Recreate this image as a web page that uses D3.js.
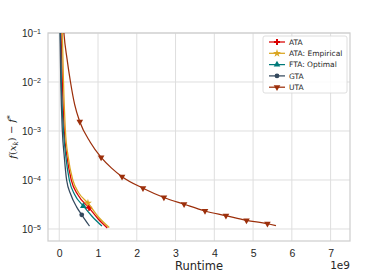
<!DOCTYPE html>
<html>
<head>
<meta charset="utf-8">
<script src="https://cdn.jsdelivr.net/npm/d3@7"></script>
<style>
  body { margin: 0; background: #fff; }
  svg { display: block; font-family: "DejaVu Sans", sans-serif; }
  .grid line { stroke: #dedede; stroke-width: 1; }
  .axis path { display: none; }
  .axis text { fill: #262626; }
</style>
</head>
<body>
<div id="chart"></div>
<script>
// runtime in units of 1e9, suboptimality f(x_k) - f*
var ataT = [0.03, 0.045, 0.08, 0.13, 0.2, 0.31, 0.48, 0.77, 1.0, 1.24];
var ataV = [0.3, 0.1, 1e-2, 1e-3, 3e-4, 1e-4, 5e-5, 2.7e-5, 1.62e-5, 1.05e-5];
var ataMarks = [7];

var empT = [0.06, 0.08, 0.11, 0.16, 0.23, 0.35, 0.5, 0.74, 1.0, 1.29];
var empV = [0.3, 0.1, 1e-2, 1e-3, 3e-4, 1e-4, 5.5e-5, 3.4e-5, 1.8e-5, 1.07e-5];
var empMarks = [7];

var ftaT = [0.02, 0.03, 0.055, 0.11, 0.17, 0.26, 0.4, 0.62, 0.85, 1.10];
var ftaV = [0.3, 0.1, 1e-2, 1e-3, 3e-4, 1e-4, 5e-5, 2.95e-5, 1.8e-5, 1.15e-5];
var ftaMarks = [7];

var gtaT = [0.01, 0.02, 0.04, 0.08, 0.13, 0.19, 0.3, 0.45, 0.58, 0.78];
var gtaV = [0.3, 0.1, 1e-2, 1e-3, 3e-4, 1e-4, 5e-5, 2.8e-5, 1.95e-5, 1.15e-5];
var gtaMarks = [8];

var utaT = [0.08, 0.12, 0.2, 0.29, 0.4, 0.53, 0.8, 1.08, 1.35, 1.62, 2.16, 2.70, 3.22, 3.76, 4.30, 4.83, 5.37, 5.59];
var utaV = [0.3, 0.1, 0.03, 1e-2, 3.4e-3, 1.55e-3, 5.9e-4, 2.9e-4, 1.75e-4, 1.17e-4, 6.8e-5, 4.4e-5, 3.2e-5, 2.33e-5, 1.87e-5, 1.5e-5, 1.28e-5, 1.17e-5];
var utaMarks = [5, 7, 9, 10, 11, 12, 13, 14, 15, 16];

var names = ["ATA", "ATA: Empirical", "FTA: Optimal", "GTA", "UTA"];
var colors = ["#d90000", "#daa520", "#007a7a", "#34495e", "#9c2f0b"];
var xTicks = [0, 1, 2, 3, 4, 5, 6, 7];
var yTicks = [-5, -4, -3, -2, -1];

var series = [
    {t: ataT, v: ataV, m: ataMarks, sym: d3.symbolCross, size: 20, rot: 0},
    {t: empT, v: empV, m: empMarks, sym: d3.symbolStar, size: 20, rot: 0},
    {t: ftaT, v: ftaV, m: ftaMarks, sym: d3.symbolTriangle, size: 19, rot: 0},
    {t: gtaT, v: gtaV, m: gtaMarks, sym: d3.symbolCircle, size: 18, rot: 0},
    {t: utaT, v: utaV, m: utaMarks, sym: d3.symbolTriangle, size: 19, rot: 180}
];

var W = 389, H = 272;
var margin = {top: 33, right: 39, bottom: 31, left: 48},
    width = W - margin.left - margin.right,
    height = H - margin.top - margin.bottom;

var svg = d3.select("#chart").append("svg")
    .attr("width", W)
    .attr("height", H);

var g = svg.append("g")
    .attr("transform", "translate(" + margin.left + "," + margin.top + ")");

var x = d3.scaleLinear().domain([-0.29, 7.5]).range([0, width]);
var y = d3.scaleLog().domain([Math.pow(10, -5.245), 0.1]).range([height, 0]);

// grid
g.append("g").attr("class", "grid")
    .selectAll("line").data(xTicks).enter().append("line")
    .attr("x1", function (d) { return x(d); })
    .attr("x2", function (d) { return x(d); })
    .attr("y1", 0).attr("y2", height);
g.append("g").attr("class", "grid")
    .selectAll("line").data(yTicks).enter().append("line")
    .attr("y1", function (d) { return y(Math.pow(10, d)); })
    .attr("y2", function (d) { return y(Math.pow(10, d)); })
    .attr("x1", 0).attr("x2", width);

// spines
g.append("rect")
    .attr("width", width).attr("height", height)
    .attr("fill", "none")
    .attr("stroke", "#cfcfcf")
    .attr("stroke-width", 1.25);

// axes
g.append("g").attr("class", "axis")
    .attr("transform", "translate(0," + height + ")")
    .call(d3.axisBottom(x).tickValues(xTicks).tickSize(0).tickPadding(9).tickFormat(d3.format("d")))
    .selectAll("text").style("font-size", "10.5px");

var yAxis = g.append("g").attr("class", "axis")
    .call(d3.axisLeft(y).tickValues(yTicks.map(function (d) { return Math.pow(10, d); })).tickSize(0).tickPadding(7));
yAxis.selectAll("text").each(function (d) {
    var t = d3.select(this);
    var e = Math.round(Math.log10(d));
    t.text(null).style("font-size", "10px");
    t.append("tspan").text("10");
    t.append("tspan").attr("dy", "-0.45em").style("font-size", "7px").text("\u2212" + Math.abs(e));
});

// lines
g.append("clipPath").attr("id", "clip")
    .append("rect").attr("width", width).attr("height", height);

var line = d3.line()
    .x(function (d) { return x(d[0]); })
    .y(function (d) { return y(d[1]); })
    .curve(d3.curveMonotoneX);

var plot = g.append("g").attr("clip-path", "url(#clip)");

series.forEach(function (s, i) {
    var pts = s.t.map(function (t, j) { return [t, s.v[j]]; });
    plot.append("path")
        .datum(pts)
        .attr("fill", "none")
        .attr("stroke", colors[i])
        .attr("stroke-width", 1.25)
        .attr("d", line);
    plot.selectAll(".mk" + i)
        .data(s.m.map(function (j) { return pts[j]; }))
        .enter().append("path")
        .attr("class", "mk" + i)
        .attr("d", d3.symbol().type(s.sym).size(s.size))
        .attr("fill", colors[i])
        .attr("transform", function (d) {
            return "translate(" + x(d[0]) + "," + y(d[1]) + ") rotate(" + s.rot + ")";
        });
});

// labels
svg.append("text")
    .attr("x", margin.left + width / 2)
    .attr("y", 270)
    .attr("text-anchor", "middle")
    .style("font-size", "11.5px")
    .style("fill", "#262626")
    .text("Runtime");

svg.append("text")
    .attr("x", margin.left + width)
    .attr("y", 269)
    .attr("text-anchor", "end")
    .style("font-size", "10.5px")
    .style("fill", "#262626")
    .text("1e9");

var ylab = svg.append("text")
    .attr("transform", "translate(16," + (margin.top + height / 2) + ") rotate(-90)")
    .attr("text-anchor", "middle")
    .style("font-family", "'DejaVu Serif', serif")
    .style("font-size", "10px")
    .style("fill", "#262626");
ylab.append("tspan").style("font-style", "italic").text("f");
ylab.append("tspan").text("(");
ylab.append("tspan").style("font-style", "italic").text("x");
ylab.append("tspan").attr("dy", "0.3em").style("font-size", "7px").style("font-style", "italic").text("k");
ylab.append("tspan").attr("dy", "-0.3em").text(") \u2212 ");
ylab.append("tspan").style("font-style", "italic").text("f");
ylab.append("tspan").attr("dy", "-0.45em").style("font-size", "7px").text("*");

// legend
var lg = svg.append("g").attr("transform", "translate(263,36)");
lg.append("rect")
    .attr("width", 84).attr("height", 57)
    .attr("rx", 2)
    .attr("fill", "#fff").attr("fill-opacity", 0.85)
    .attr("stroke", "#d6d6d6").attr("stroke-width", 0.8);

names.forEach(function (n, i) {
    var row = lg.append("g").attr("transform", "translate(0," + (6 + i * 11.3) + ")");
    row.append("line")
        .attr("x1", 6).attr("x2", 22)
        .attr("stroke", colors[i]).attr("stroke-width", 1.25);
    row.append("path")
        .attr("d", d3.symbol().type(series[i].sym).size(series[i].size))
        .attr("fill", colors[i])
        .attr("transform", "translate(14,0) rotate(" + series[i].rot + ")");
    row.append("text")
        .attr("x", 26).attr("dy", "0.35em")
        .style("font-size", "7.5px")
        .style("fill", "#262626")
        .text(n);
});
</script>
</body>
</html>
